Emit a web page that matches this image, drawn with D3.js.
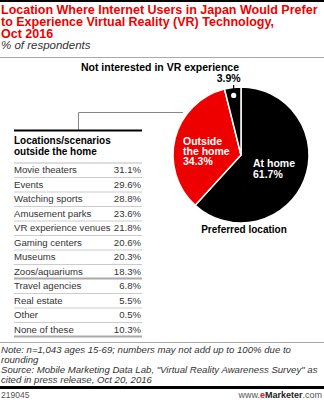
<!DOCTYPE html>
<html><head><meta charset="utf-8">
<script src="https://cdn.jsdelivr.net/npm/d3@7"></script>
<style>
html,body{margin:0;padding:0;background:#fff;}
svg{display:block;font-family:"Liberation Sans",Arial,sans-serif;}
</style></head>
<body>
<script>
const titleLines = ["Location Where Internet Users in Japan Would Prefer","to Experience Virtual Reality (VR) Technology,","Oct 2016"];
const subtitle = "% of respondents";
const pieCategories = ["At home","Outside the home","Not interested in VR experience"];
const pieValues = [61.7, 34.3, 3.9];
const tableHeader = ["Locations/scenarios","outside the home"];
const locations = ["Movie theaters","Events","Watching sports","Amusement parks","VR experience venues","Gaming centers","Museums","Zoos/aquariums","Travel agencies","Real estate","Other","None of these"];
const locationValues = [31.1, 29.6, 28.8, 23.6, 21.8, 20.6, 20.3, 18.3, 6.8, 5.5, 0.5, 10.3];
const noteLines = ["Note: n=1,043 ages 15-69; numbers may not add up to 100% due to","rounding","Source: Mobile Marketing Data Lab, \"Virtual Reality Awareness Survey\" as","cited in press release, Oct 20, 2016"];
const chartId = "219045";

const W = 324, H = 400;
const svg = d3.select("body").append("svg").attr("width", W).attr("height", H);
const RED = "#ee0000";

// top rule
svg.append("rect").attr("x",0).attr("y",0).attr("width",W).attr("height",2).attr("fill","#000");
// title
svg.selectAll("text.title").data(titleLines).join("text")
  .attr("x",1).attr("y",(d,i)=>14+i*12)
  .attr("font-size",12.5).attr("font-weight","bold").attr("fill",RED).text(d=>d);
svg.append("text").attr("x",1).attr("y",49).attr("font-size",11.5).attr("font-style","italic").attr("fill","#333").text(subtitle);
svg.append("line").attr("x1",0).attr("x2",W).attr("y1",57.5).attr("y2",57.5).attr("stroke","#aaa").attr("stroke-width",1);

// pie
const cx = 241, cy = 155, R = 68;
const pie = d3.pie().sort(null).value(d=>d)(pieValues);
const arc = d3.arc().innerRadius(0).outerRadius(R);
const colors = ["#000", RED, "#000"];
const g = svg.append("g").attr("transform",`translate(${cx},${cy})`);
g.selectAll("path").data(pie).join("path").attr("d",arc).attr("fill",(d,i)=>colors[i])
  .attr("stroke","#fff").attr("stroke-width",1.5).attr("stroke-linejoin","round");

// labels inside
g.append("text").attr("font-size",10.5).attr("font-weight","bold").attr("fill","#fff")
  .selectAll("tspan").data(["At home", pieValues[0].toFixed(1)+"%"]).join("tspan")
  .attr("x",12).attr("y",(d,i)=>12+i*10.5).text(d=>d);
g.append("text").attr("font-size",10.5).attr("font-weight","bold").attr("fill","#fff")
  .selectAll("tspan").data(["Outside","the home", pieValues[1].toFixed(1)+"%"]).join("tspan")
  .attr("x",-58).attr("y",(d,i)=>-10+i*10).text(d=>d);

// small slice marker
const small = pie[2];
const midA = (small.startAngle+small.endAngle)/2;
const dx = 60*Math.sin(midA), dy = -60*Math.cos(midA);
svg.append("line").attr("x1",cx+dx).attr("x2",cx+dx).attr("y1",85).attr("y2",cy+dy).attr("stroke","#000").attr("stroke-width",1.2);
svg.append("circle").attr("cx",cx+dx).attr("cy",cy+dy).attr("r",2.6).attr("fill","#fff");
svg.append("text").attr("x",cx+dx-5).attr("y",82).attr("text-anchor","middle").attr("font-size",10.5).attr("font-weight","bold").attr("fill","#000").text(pieValues[2].toFixed(1)+"%");
svg.append("text").attr("x",160).attr("y",70.5).attr("text-anchor","middle").attr("font-size",10.5).attr("font-weight","bold").attr("fill","#000").text(pieCategories[2]);
svg.append("text").attr("x",244).attr("y",233).attr("text-anchor","middle").attr("font-size",10).attr("font-weight","bold").attr("fill","#000").text("Preferred location");

// connector
svg.append("path").attr("d","M183,112.5H78.5V130").attr("fill","none").attr("stroke","#888").attr("stroke-width",1);

// table
const tx0 = 14, tx1 = 142;
svg.append("rect").attr("x",tx0).attr("y",129.5).attr("width",tx1-tx0).attr("height",2).attr("fill","#000");
svg.selectAll("text.th").data(tableHeader).join("text").attr("class","th")
  .attr("x",tx0).attr("y",(d,i)=>144+i*10.5).attr("font-size",10).attr("font-weight","bold").attr("fill","#000").text(d=>d);
const y = d3.scaleBand().domain(locations).range([163, 337]);
svg.append("line").attr("x1",tx0).attr("x2",tx1).attr("y1",163).attr("y2",163).attr("stroke","#bbb").attr("stroke-width",1);
const rows = svg.selectAll("g.row").data(locations).join("g").attr("class","row")
  .attr("transform",d=>`translate(0,${y(d)})`);
rows.append("text").attr("x",tx0).attr("y",10).attr("font-size",9.6).attr("fill","#333").text(d=>d);
rows.append("text").attr("x",tx1-1).attr("y",10).attr("text-anchor","end").attr("font-size",9.6).attr("fill","#333")
  .text((d,i)=>locationValues[i].toFixed(1)+"%");
rows.append("line").attr("x1",tx0).attr("x2",tx1)
  .attr("y1",(d,i)=>y.bandwidth()-((i===7||i===11)?0.5:0)).attr("y2",(d,i)=>y.bandwidth()-((i===7||i===11)?0.5:0))
  .attr("stroke",(d,i)=>(i===7||i===11)?"#aaa":"#ccc").attr("stroke-width",(d,i)=>(i===7||i===11)?2:1);

// notes
svg.append("line").attr("x1",0).attr("x2",W).attr("y1",342.5).attr("y2",342.5).attr("stroke","#aaa").attr("stroke-width",1);
svg.selectAll("text.note").data(noteLines).join("text").attr("class","note")
  .attr("x",1).attr("y",(d,i)=>353+i*10).attr("font-size",9.6).attr("font-style","italic").attr("fill","#333").text(d=>d);
svg.append("rect").attr("x",0).attr("y",386).attr("width",W).attr("height",3).attr("fill","#000");
svg.append("text").attr("x",1).attr("y",397.5).attr("font-size",8.5).attr("fill","#555").text(chartId);
const brand = svg.append("text").attr("x",322).attr("y",397.5).attr("text-anchor","end").attr("font-size",9);
brand.append("tspan").attr("fill","#555").text("www.");
brand.append("tspan").attr("fill",RED).attr("font-weight","bold").text("e");
brand.append("tspan").attr("fill","#222").attr("font-weight","bold").text("Marketer");
brand.append("tspan").attr("fill","#555").text(".com");
</script>
</body></html>
